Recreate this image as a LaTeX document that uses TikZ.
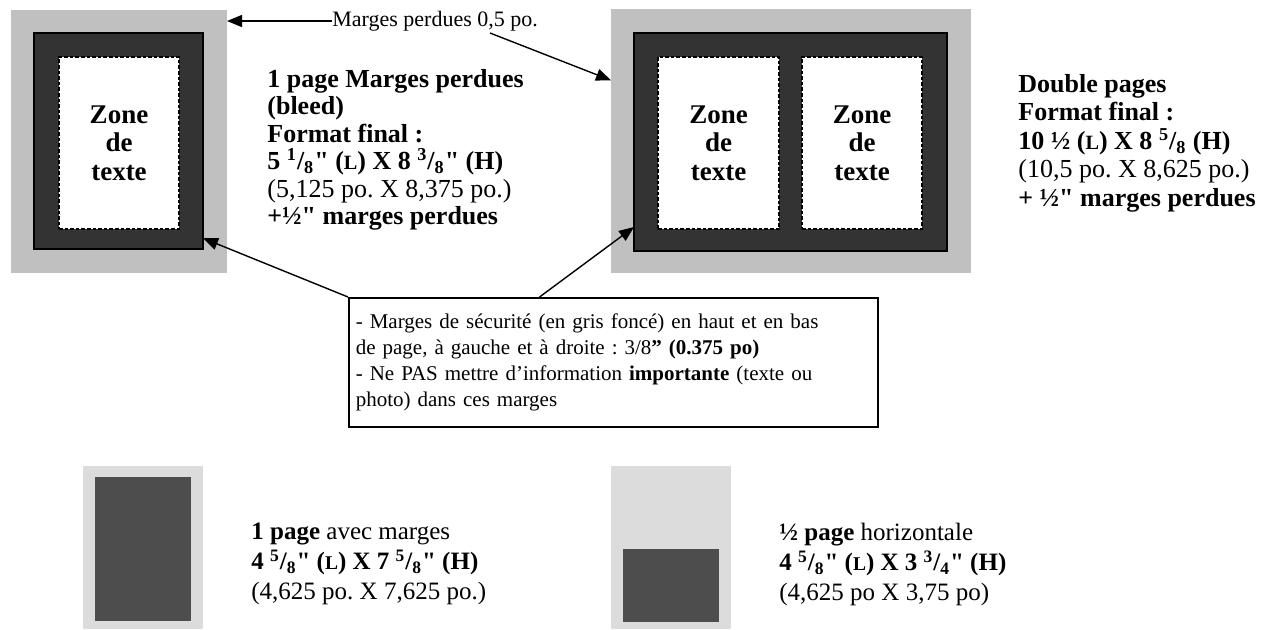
\documentclass[tikz,border=0pt]{standalone}
\usepackage{fontspec}
\setmainfont{Liberation Serif}[Ligatures=TeXOff]
\usetikzlibrary{arrows.meta,calc}
\definecolor{bleedgray}{HTML}{C0C0C0}
\definecolor{safedark}{HTML}{333333}
\definecolor{adlight}{HTML}{DCDCDC}
\definecolor{addark}{HTML}{4D4D4D}
\newcommand\frc[2]{\textsuperscript{#1}/\textsubscript{#2}}
\newcommand\smc[1]{\scalebox{0.78}{#1}}
\newcommand\tightlines{\lineskiplimit=-20pt\relax}
\frenchspacing
\begin{document}
\begin{tikzpicture}[x=0.5pt,y=-0.5pt,
  plainbox/.style={inner sep=0pt, outer sep=0pt},
  bleedbox/.style={plainbox, fill=bleedgray},
  safebox/.style={plainbox, fill=safedark, draw=black, line width=0.8pt},
  zonebox/.style={plainbox, fill=white, draw=black, line width=0.6pt,
    dash pattern=on 1.8pt off 1pt, align=center,
    font=\fontsize{13.5pt}{14.25pt}\selectfont\bfseries\tightlines},
  adlightbox/.style={plainbox, fill=adlight},
  addarkbox/.style={plainbox, fill=addark},
  txtblock/.style={inner sep=0pt, anchor=north west, align=left,
    font=\fontsize{13pt}{13.7pt}\selectfont\tightlines},
  bottxt/.style={inner sep=0pt, anchor=north west, align=left,
    font=\fontsize{12.5pt}{15pt}\selectfont\tightlines},
  callbox/.style={draw=black, line width=0.8pt, fill=white, inner xsep=3.5pt,
    inner ysep=0pt, text width=257.5pt, minimum height=64.5pt, align=left,
    anchor=north west, font=\fontsize{10.5pt}{13pt}\selectfont},
  conn/.style={line width=0.7pt, -{Triangle[length=7.5pt,width=6pt]}}
]
\useasboundingbox (0,0) rectangle (1275,629);

% left single page
\node[bleedbox, minimum width=108pt, minimum height=131.5pt] (lbleed) at (119,141.5) {};
\node[safebox, minimum width=84.5pt, minimum height=108pt] (ldark) at (118.5,141) {};
\node[zonebox, minimum width=60pt, minimum height=86pt] (lzone) at (119,143) {Zone\\de\\texte};

% right double page
\node[bleedbox, minimum width=180pt, minimum height=132pt] (rbleed) at (791,141) {};
\node[safebox, minimum width=156.5pt, minimum height=109pt] (rdark) at (790.5,142) {};
\node[zonebox, minimum width=60.5pt, minimum height=86pt] (rzoneA) at (718.5,143) {Zone\\de\\texte};
\node[zonebox, minimum width=60pt, minimum height=86pt] (rzoneB) at (862,143) {Zone\\de\\texte};

% label bleed
\node[inner sep=0pt, anchor=west, font=\fontsize{11pt}{13pt}\selectfont] (mp) at (332,21) {Marges perdues 0,5 po.};
\coordinate (mpfrom) at (490,33);
\draw[conn] (mp.west) -- (mp.west -| lbleed.east);
\draw[conn] (mpfrom) -- ($(rbleed.north west)!0.27!(rbleed.south west)$);

% text blocks
\node[txtblock] (ltxt) at (267,69) {\textbf{1 page Marges perdues}\\
\textbf{(bleed)}\\
\textbf{Format final :}\\
\textbf{5 \frc{1}{8}" (\smc{L}) X 8 \frc{3}{8}" (H)}\\
(5,125 po. X 8,375 po.)\\
\textbf{+½" marges perdues}};

\node[txtblock, font=\fontsize{13pt}{14.25pt}\selectfont\tightlines] (rtxt) at (1018,74) {\textbf{Double pages}\\
\textbf{Format final :}\\
\textbf{10 ½ (\smc{L}) X 8 \frc{5}{8} (H)}\\
(10,5 po. X 8,625 po.)\\
\textbf{+ ½" marges perdues}};

% callout
\node[callbox] (call) at (348,297) {- Marges de sécurité (en gris foncé) en haut et en bas\\
de page, à gauche et à droite : 3/8\textbf{” (0.375 po)}\\
- Ne PAS mettre d’information \textbf{importante} (texte ou\\
photo) dans ces marges};
\draw[conn] (call.north west) -- ($(ldark.north east)!0.95!(ldark.south east)$);
\draw[conn] ($(call.north west)!0.361!(call.north east)$) -- ($(rdark.north west)!0.89!(rdark.south west)$);

% bottom examples
\node[adlightbox, minimum width=60pt, minimum height=81.5pt] (bAlight) at (143,547.5) {};
\node[addarkbox, minimum width=48pt, minimum height=72pt] (bAdark) at (143,549) {};
\node[bottxt] (bAtxt) at (251,523) {\textbf{1 page} avec marges\\
\textbf{4 \frc{5}{8}" (\smc{L}) X 7 \frc{5}{8}" (H)}\\
(4,625 po. X 7,625 po.)};

\node[adlightbox, minimum width=60pt, minimum height=81.5pt] (bBlight) at (671,547.5) {};
\node[addarkbox, minimum width=48pt, minimum height=36.5pt] (bBdark) at (671,585.5) {};
\node[bottxt] (bBtxt) at (779,523) {\textbf{½ page} horizontale\\
\textbf{4 \frc{5}{8}" (\smc{L}) X 3 \frc{3}{4}" (H)}\\
(4,625 po X 3,75 po)};
\end{tikzpicture}
\end{document}
